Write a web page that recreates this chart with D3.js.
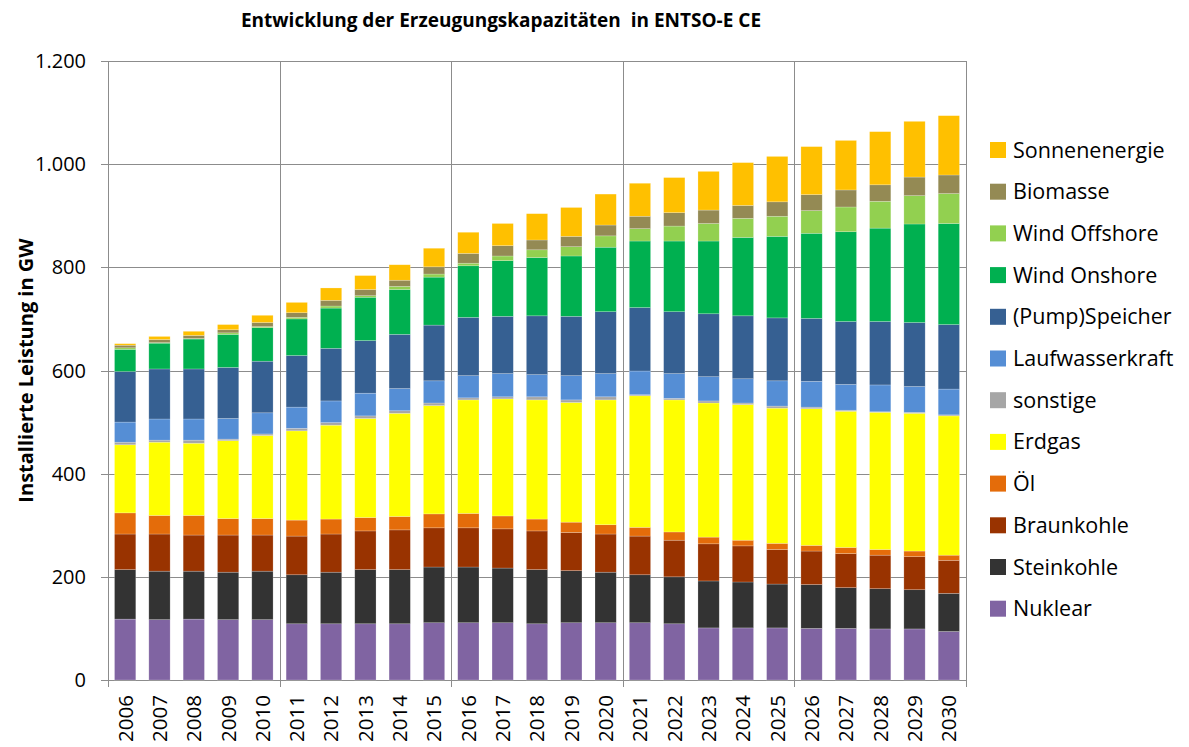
<!DOCTYPE html>
<html>
<head>
<meta charset="utf-8">
<script src="https://cdn.jsdelivr.net/npm/d3@7"></script>
<style>
  body { margin: 0; background: #fff; }
  text { font-family: "Open Sans", "Noto Sans", sans-serif; fill: #000; }
</style>
</head>
<body>
<div id="chart"></div>
<script>
// years on the x axis
const years = ['2006','2007','2008','2009','2010','2011','2012','2013','2014','2015',
  '2016','2017','2018','2019','2020','2021','2022','2023','2024','2025',
  '2026','2027','2028','2029','2030'];

// series, bottom to top of the stack (GW)
const nuklear     = [118,117,118,117,117,109,109,109,109,111,111,111,109,111,111,111,109,101,101,101,100,100,99,99,94];
const steinkohle  = [96,94,93,92,94,95,100,105,105,108,108,106,105,101,98,93,91,91,89,85,85,79,78,76,74];
const braunkohle  = [69,72,70,72,70,75,74,75,77,76,76,76,75,74,74,75,71,72,70,67,65,66,65,64,64];
const oel         = [41,36,38,32,32,31,29,26,26,27,28,25,23,20,18,17,16,13,11,12,11,12,11,11,10];
const erdgas      = [132,142,140,151,161,173,182,192,200,210,220,227,231,232,242,255,256,260,263,262,265,264,266,267,270];
const sonstige    = [5,4,6,3,3,5,5,5,5,5,4,4,6,5,6,2,3,4,3,4,3,2,1,2,2];
const laufwasser  = [39,41,41,40,41,41,42,44,43,43,43,45,43,47,45,46,48,47,47,49,50,50,52,50,50];
const speicher    = [98,97,97,99,100,100,102,102,105,108,113,111,114,115,120,123,120,122,122,122,122,122,123,124,125];
const windOnshore = [43,50,58,64,65,71,78,84,87,93,100,108,113,117,125,129,137,141,152,158,165,174,181,191,196];
const windOffshore= [3,1,1,3,2,3,4,3,6,6,5,9,15,18,22,24,29,34,37,39,44,48,52,55,58];
const biomasse    = [5,6,6,6,8,9,11,12,12,14,19,20,19,20,21,24,26,26,25,28,31,33,32,36,36];
const sonne       = [3,6,8,10,14,20,24,27,30,36,41,43,51,56,60,64,68,75,83,88,93,96,103,108,115];

const seriesNames = ['Nuklear','Steinkohle','Braunkohle','Öl','Erdgas','sonstige',
  'Laufwasserkraft','(Pump)Speicher','Wind Onshore','Wind Offshore','Biomasse','Sonnenenergie'];
const seriesValues = [nuklear, steinkohle, braunkohle, oel, erdgas, sonstige,
  laufwasser, speicher, windOnshore, windOffshore, biomasse, sonne];
const seriesColors = ['#8064A2','#333333','#993300','#E46C0A','#FFFF00','#A6A6A6',
  '#558ED5','#366092','#00B050','#92D050','#948A54','#FFC000'];

const yTicks = [0, 200, 400, 600, 800, 1000, 1200];

const width = 1189, height = 747;
const margin = { top: 61, right: 223, bottom: 67, left: 108 };
const innerW = width - margin.left - margin.right;
const innerH = height - margin.top - margin.bottom;

const svg = d3.select('#chart').append('svg')
  .attr('width', width)
  .attr('height', height);

// build rows for d3.stack
const rows = years.map((y, i) => {
  const r = { year: y };
  seriesNames.forEach((n, k) => { r[n] = seriesValues[k][i]; });
  return r;
});
const stacked = d3.stack().keys(seriesNames)(rows);

const x = d3.scaleBand().domain(years).range([0, innerW]).paddingInner(0.38).paddingOuter(0.19);
const y = d3.scaleLinear().domain([0, 1200]).range([innerH, 0]);
const color = d3.scaleOrdinal().domain(seriesNames).range(seriesColors);

const g = svg.append('g').attr('transform', `translate(${margin.left},${margin.top})`);

// horizontal grid lines + y ticks
g.append('g')
  .selectAll('line')
  .data(yTicks)
  .enter()
  .append('line')
  .attr('x1', -7)
  .attr('x2', innerW)
  .attr('y1', d => Math.round(y(d)) + 0.5)
  .attr('y2', d => Math.round(y(d)) + 0.5)
  .attr('stroke', '#8c8c8c')
  .attr('stroke-width', 1);

// vertical grid lines every 5 years
const step = x.step();
const vLines = d3.range(0, years.length + 1, 5);
g.append('g')
  .selectAll('line')
  .data(vLines)
  .enter()
  .append('line')
  .attr('x1', d => Math.round(d * step) + 0.5)
  .attr('x2', d => Math.round(d * step) + 0.5)
  .attr('y1', 0)
  .attr('y2', innerH + 7)
  .attr('stroke', '#8c8c8c')
  .attr('stroke-width', 1);

// y tick labels
g.append('g')
  .selectAll('text')
  .data(yTicks)
  .enter()
  .append('text')
  .attr('x', -22)
  .attr('y', d => y(d))
  .attr('dy', '0.35em')
  .attr('text-anchor', 'end')
  .style('font-size', '20px')
  .text(d => d3.format(',')(d).replace(/,/g, '.'));

// bars
g.append('g')
  .selectAll('g')
  .data(stacked)
  .enter()
  .append('g')
  .attr('fill', d => color(d.key))
  .selectAll('rect')
  .data(d => d)
  .enter()
  .append('rect')
  .attr('x', d => x(d.data.year))
  .attr('width', x.bandwidth())
  .attr('y', d => y(d[1]))
  .attr('height', d => Math.max(0, y(d[0]) - y(d[1])))
  .attr('stroke', '#ffffff')
  .attr('stroke-opacity', 0.35)
  .attr('stroke-width', 0.6);

// x tick labels, rotated
g.append('g')
  .selectAll('text')
  .data(years)
  .enter()
  .append('text')
  .attr('transform', d => `translate(${x(d) + x.bandwidth() / 2},${innerH + 15}) rotate(-90)`)
  .attr('text-anchor', 'end')
  .attr('dy', '0.36em')
  .style('font-size', '20.5px')
  .text(d => d);

// y axis title
svg.append('text')
  .attr('transform', `translate(26,${margin.top + innerH / 2}) rotate(-90)`)
  .attr('text-anchor', 'middle')
  .attr('dy', '0.35em')
  .style('font-size', '20px')
  .style('font-weight', 'bold')
  .text('Installierte Leistung in GW');

// title
svg.append('text')
  .attr('x', 501)
  .attr('y', 20)
  .attr('text-anchor', 'middle')
  .attr('dy', '0.35em')
  .style('font-size', '19px')
  .style('font-weight', 'bold')
  .style('white-space', 'pre')
  .text('Entwicklung der Erzeugungskapazitäten  in ENTSO-E CE');

// legend, top item is the top of the stack
const legendItems = seriesNames.slice().reverse();
const legend = svg.append('g').attr('transform', 'translate(990,150)');
const li = legend.selectAll('g')
  .data(legendItems)
  .enter()
  .append('g')
  .attr('transform', (d, i) => `translate(0,${i * 41.7})`);
li.append('rect')
  .attr('x', 0)
  .attr('y', -8)
  .attr('width', 16)
  .attr('height', 16)
  .attr('fill', d => color(d));
li.append('text')
  .attr('x', 23)
  .attr('y', 0)
  .attr('dy', '0.35em')
  .style('font-size', '21.5px')
  .text(d => d);
</script>
</body>
</html>
